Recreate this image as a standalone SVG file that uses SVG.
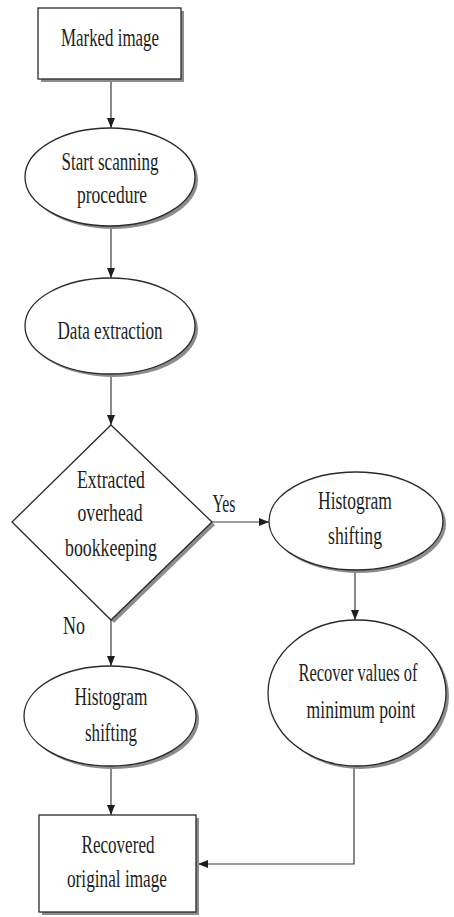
<svg xmlns="http://www.w3.org/2000/svg" width="454" height="917" viewBox="0 0 454 917">
<defs>
<style>
.sh{fill:#8c8c8c;stroke:none}
.nd{fill:#fff;stroke:#2a2a2a;stroke-width:1.3}
.t{font-family:"Liberation Serif","Times New Roman",serif;font-size:26px;fill:#1e1e1e;text-anchor:middle}
.c{fill:none;stroke:#3a3a3a;stroke-width:1.2}
</style>
<marker id="ah" markerUnits="userSpaceOnUse" markerWidth="10" markerHeight="10" viewBox="0 0 10 10" refX="10" refY="5" orient="auto">
<path d="M0,1 L10,5 L0,9 Z" fill="#1e1e1e"/>
</marker>
</defs>
<rect width="454" height="917" fill="#fff"/>
<g id="connectors">
<line class="c" x1="111" y1="81" x2="111" y2="128" marker-end="url(#ah)"/>
<line class="c" x1="111" y1="227" x2="111" y2="278" marker-end="url(#ah)"/>
<line class="c" x1="111" y1="375" x2="111" y2="425" marker-end="url(#ah)"/>
<line class="c" x1="212" y1="522" x2="269" y2="522" marker-end="url(#ah)"/>
<line class="c" x1="355" y1="571" x2="355" y2="620" marker-end="url(#ah)"/>
<line class="c" x1="111" y1="620" x2="111" y2="666" marker-end="url(#ah)"/>
<line class="c" x1="111" y1="767" x2="111" y2="815" marker-end="url(#ah)"/>
<polyline class="c" points="354,767 354,864 198,864" marker-end="url(#ah)"/>
</g>
<g id="marked">
<rect class="sh" x="41" y="11" width="143" height="71"/>
<rect class="nd" x="38" y="8" width="143" height="71"/>
<text class="t" x="110" y="46" textLength="98" lengthAdjust="spacingAndGlyphs">Marked image</text>
</g>
<g id="scan">
<ellipse class="sh" cx="113" cy="180" rx="85" ry="49"/>
<ellipse class="nd" cx="110" cy="177" rx="85" ry="49"/>
<text class="t" x="110" y="170" textLength="97" lengthAdjust="spacingAndGlyphs">Start scanning</text>
<text class="t" x="112" y="203" textLength="70" lengthAdjust="spacingAndGlyphs">procedure</text>
</g>
<g id="extract">
<ellipse class="sh" cx="113" cy="329" rx="85" ry="48"/>
<ellipse class="nd" cx="110" cy="326" rx="85" ry="48"/>
<text class="t" x="110" y="339" textLength="105" lengthAdjust="spacingAndGlyphs">Data extraction</text>
</g>
<g id="decision">
<polygon class="sh" points="114,428 215,525 114,623 15,525"/>
<polygon class="nd" points="111,425 212,522 111,620 12,522"/>
<text class="t" x="111" y="488" textLength="68" lengthAdjust="spacingAndGlyphs">Extracted</text>
<text class="t" x="110" y="521" textLength="65" lengthAdjust="spacingAndGlyphs">overhead</text>
<text class="t" x="111" y="556" textLength="92" lengthAdjust="spacingAndGlyphs">bookkeeping</text>
</g>
<g id="labels">
<text class="t" x="224" y="512" textLength="23" lengthAdjust="spacingAndGlyphs">Yes</text>
<text class="t" x="74" y="634" textLength="22" lengthAdjust="spacingAndGlyphs">No</text>
</g>
<g id="hist-right">
<ellipse class="sh" cx="359" cy="524" rx="87" ry="49"/>
<ellipse class="nd" cx="356" cy="521" rx="87" ry="49"/>
<text class="t" x="355" y="509" textLength="74" lengthAdjust="spacingAndGlyphs">Histogram</text>
<text class="t" x="355" y="544" textLength="54" lengthAdjust="spacingAndGlyphs">shifting</text>
</g>
<g id="recover">
<ellipse class="sh" cx="360" cy="696" rx="89" ry="73"/>
<ellipse class="nd" cx="357" cy="693" rx="89" ry="73"/>
<text class="t" transform="translate(358,681) scale(0.64,1)" x="0" y="0" textLength="186" lengthAdjust="spacingAndGlyphs">Recover values of</text>
<text class="t" transform="translate(361,718) scale(0.64,1)" x="0" y="0" textLength="170" lengthAdjust="spacingAndGlyphs">minimum point</text>
</g>
<g id="hist-left">
<ellipse class="sh" cx="113" cy="719" rx="86" ry="50"/>
<ellipse class="nd" cx="110" cy="716" rx="86" ry="50"/>
<text class="t" x="111" y="705" textLength="73" lengthAdjust="spacingAndGlyphs">Histogram</text>
<text class="t" x="111" y="741" textLength="52" lengthAdjust="spacingAndGlyphs">shifting</text>
</g>
<g id="recovered">
<rect class="sh" x="42" y="818" width="157" height="97"/>
<rect class="nd" x="39" y="815" width="157" height="97"/>
<text class="t" x="118" y="853" textLength="73" lengthAdjust="spacingAndGlyphs">Recovered</text>
<text class="t" x="117" y="887" textLength="100" lengthAdjust="spacingAndGlyphs">original image</text>
</g>
</svg>
